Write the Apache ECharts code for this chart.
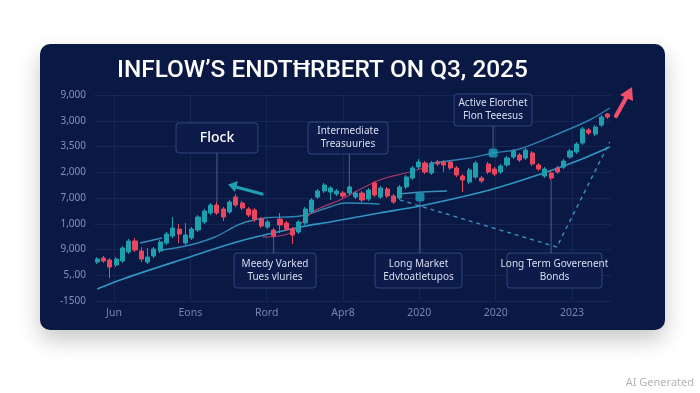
<!DOCTYPE html>
<html>
<head>
<meta charset="utf-8">
<script src="https://cdn.jsdelivr.net/npm/echarts@6/dist/echarts.min.js"></script>
<style>
  html, body { margin: 0; padding: 0; background: #ffffff; }
  #chart { width: 700px; height: 393px; }
</style>
</head>
<body>
<div id="chart"></div>
<script>
// ---- data ----
const titleText = 'INFLOW\u2019S ENDT\u0126RBERT ON Q3, 2025';
const xTickLabels = ['Jun', 'Eons', 'Rord', 'Apr8', '2020', '2020', '2023'];
const yTickLabels = ['-1500', '5,.00', '9,000', '1,000', '7,000', '2,000', '3,500', '3,000', '9,000'];

// candles: [open, close, low, high]
const candles = [
  [39,42,37,44],[43,40,38,45],[41,34,23,43],[36,42,34,44],[40,53,38,55],
  [49,60,47,62],[60,51,49,63],[50,42,39,54],[39,44,37,53],[45,52,43,54],
  [50,59,48,61],[58,67,56,69],[65,73,63,84],[72,67,58,77],[58,66,56,78],
  [63,72,61,74],[71,84,69,86],[79,90,77,92],[88,96,86,98],[96,88,86,99],
  [92,84,80,94],[89,99,87,101],[104,96,94,107],[98,93,91,100],[92,86,84,94],
  [91,82,79,93],[82,75,73,84],[74,79,72,81],[71,65,63,73],[82,76,68,88],
  [78,72,70,80],[72,66,57,74],[69,79,67,81],[78,92,76,94],[89,101,87,103],
  [104,110,102,112],[110,116,108,118],[109,113,101,115],[107,110,105,112],[108,105,103,110],
  [108,114,106,116],[104,108,102,110],[108,101,99,110],[102,111,100,113],[118,106,104,120],
  [104,113,102,115],[112,105,103,114],[105,99,97,107],[103,114,101,116],[114,124,112,126],
  [123,133,121,135],[134,139,132,142],[138,129,127,140],[128,138,126,140],[139,137,135,141],
  [139,136,129,141],[139,133,131,141],[133,126,124,135],[125,121,109,127],[119,131,117,133],
  [124,138,122,140],[123,120,118,125],[137,129,127,139],[132,127,125,134],[129,135,127,137],
  [136,143,134,145],[144,150,142,152],[146,141,139,148],[143,151,141,153],[148,137,135,150],
  [136,132,130,138],[125,132,123,134],[128,123,121,130],[133,129,127,135],[134,140,132,142],
  [144,150,142,152],[149,157,147,159],[158,172,156,174],[171,168,166,173],[167,174,165,176],
  [176,184,174,186],[187,184,182,188]
];

// trend lines: [candle position, value]
const lineLower = [[0,12],[4.1,22],[13.2,41],[22.7,60],[32.2,74],[36.9,79],[44.8,88],[51.2,95],[59.1,106],[63.9,114],[71.3,129],[76.5,141],[81.3,154]];
const lineMidShort = [[6.8,58],[10.3,63]];
const lineMid = [[10.3,51],[14.7,56],[18.7,64],[22.7,77],[26.6,83],[32.2,85],[36.9,94],[39.3,98],[44.8,97]];
const lineMidLate = [[48,107],[51.6,109],[55.5,110]];
const linePink = [[26.3,64],[30.6,68],[34.2,89],[38.5,101],[44.8,121],[49.6,129],[53.1,136]];
const lineUpper = [[53.1,138],[59.1,143],[62.8,148],[67,152],[73.4,168],[78.1,181],[81.3,193]];
const lineDashed = [[48,101],[72.9,54],[81.3,159]];
const markerPoints = [[51.2,104],[62.8,148]];

// annotations: text lines and the point each one points at
const annotations = [
  { lines: ['Flock'], anchor: [19, 99], size: 14 },
  { lines: ['Intermediate', 'Treasuuries'], anchor: [40, 113], size: 10 },
  { lines: ['Active Elorchet', 'Flon Teeesus'], anchor: [62.8, 148], size: 10 },
  { lines: ['Meedy Varked', 'Tues vluries'], anchor: [28, 63], size: 10 },
  { lines: ['Long Market', 'Edvtoatletupos'], anchor: [51.2, 104], size: 10 },
  { lines: ['Long Term Goverenent', 'Bonds'], anchor: [72, 121], size: 10 }
];
// box layout (x, y, w, h) for the annotations above
const annotationBoxes = [
  [176, 123, 82, 30], [308, 122, 80, 32], [454, 94, 78, 32],
  [234, 253, 82, 35], [375, 253, 87, 35], [507, 253, 95, 35]
];

// ---- chart ----
const yStep = 25.75;
const chart = echarts.init(document.getElementById('chart'), null, { renderer: 'canvas' });
const FONT = '"Noto Sans", "Open Sans", sans-serif';
const gridCol = 'rgba(70,100,165,0.18)';
const lineSeries = (data, color, width, extra) => Object.assign({
  type: 'line', xAxisIndex: 1, yAxisIndex: 0, data: data, smooth: 0.35,
  symbol: 'none', lineStyle: { color: color, width: width }, z: 3, silent: true
}, extra || {});

const option = {
  backgroundColor: '#ffffff',
  animation: false,
  grid: [
    { left: 94, right: 89, top: 95, bottom: 92 },
    { left: 114, right: 128, top: 95, bottom: 92 }
  ],
  xAxis: [
    { type: 'category', gridIndex: 0, data: candles.map((_, i) => String(i)), boundaryGap: true,
      axisLine: { show: false }, axisTick: { show: false }, axisLabel: { show: false }, splitLine: { show: false } },
    { type: 'value', gridIndex: 0, min: -0.5, max: candles.length - 0.5, show: false },
    { type: 'category', gridIndex: 1, data: xTickLabels, boundaryGap: false,
      axisLine: { show: false }, axisTick: { show: false },
      axisLabel: { interval: 0, color: '#7385b3', fontSize: 10.5, fontFamily: FONT, margin: 7 },
      splitLine: { show: true, lineStyle: { color: gridCol, width: 1 } } }
  ],
  yAxis: [
    { type: 'value', gridIndex: 0, min: 0, max: yStep * 8, interval: yStep,
      axisLine: { show: false }, axisTick: { show: false },
      axisLabel: { color: '#8391bb', fontSize: 10, fontFamily: FONT, margin: 8,
        formatter: v => yTickLabels[Math.round(v / yStep)] || '' },
      splitLine: { show: true, lineStyle: { color: gridCol, width: 1 } } },
    { type: 'value', gridIndex: 1, min: 0, max: 1, show: false }
  ],
  series: [
    lineSeries(lineLower, '#2f97c4', 1.6),
    lineSeries(lineMidShort, '#3a8fb8', 1.3),
    lineSeries(lineMid, '#2f86b3', 1.4),
    lineSeries(lineMidLate, '#3a8fb8', 1.3),
    lineSeries(linePink, '#a8386a', 1.3),
    lineSeries(lineUpper, '#2f7fb0', 1.4),
    lineSeries(lineDashed, '#3c8fc0', 1.4, { smooth: false, lineStyle: { color: '#3c8fc0', width: 1.4, type: [4, 4] } }),
    { type: 'candlestick', xAxisIndex: 0, yAxisIndex: 0, data: candles, barWidth: 4.6, z: 4,
      itemStyle: { color: '#1d9fae', color0: '#e9475f', borderColor: '#1d9fae', borderColor0: '#e9475f', borderWidth: 1 } },
    { type: 'scatter', xAxisIndex: 1, yAxisIndex: 0, data: markerPoints, symbol: 'roundRect',
      symbolSize: [9, 9], itemStyle: { color: '#1aa3b9' }, z: 6, silent: true }
  ],
  graphic: []
};
chart.setOption(option);

// decorative layer: panel, title, annotation boxes + connectors, arrows
const g = [];
g.push({ type: 'rect', z: -10, shape: { x: 40, y: 44, width: 625, height: 286, r: 10 },
  style: { fill: '#0a1844', shadowBlur: 22, shadowColor: 'rgba(0,0,0,0.22)', shadowOffsetY: 10 } });
g.push({ type: 'text', z: 10, x: 117, y: 71,
  style: { text: titleText, fill: '#ffffff', font: '500 24.4px Roboto, ' + FONT, textVerticalAlign: 'middle', textAlign: 'left' } });

annotations.forEach((a, i) => {
  const [bx, by, bw, bh] = annotationBoxes[i];
  const p = chart.convertToPixel({ xAxisIndex: 1, yAxisIndex: 0 }, a.anchor);
  const below = by > p[1];
  g.push({ type: 'line', z: 5, shape: { x1: p[0], y1: p[1], x2: p[0], y2: below ? by : by + bh },
    style: { stroke: 'rgba(120,145,195,0.6)', lineWidth: 1 } });
  g.push({ type: 'rect', z: 20, shape: { x: bx, y: by, width: bw, height: bh, r: 3 },
    style: { fill: '#0c1b4a', stroke: 'rgba(95,125,185,0.45)', lineWidth: 1 } });
  const lh = a.size + 3;
  const y0 = by + bh / 2 - (a.lines.length - 1) * lh / 2;
  a.lines.forEach((t, k) => {
    g.push({ type: 'text', z: 21, x: bx + bw / 2, y: y0 + k * lh,
      style: { text: t, fill: a.size > 12 ? '#ffffff' : '#d8def0', font: (a.size > 12 ? '500 ' : '') + a.size + 'px ' + FONT,
        textAlign: 'center', textVerticalAlign: 'middle' } });
  });
});

// teal arrow pointing left
g.push({ type: 'line', z: 8, shape: { x1: 262, y1: 194, x2: 236, y2: 187 },
  style: { stroke: '#1e9fb3', lineWidth: 3.2, lineCap: 'round' } });
g.push({ type: 'polygon', z: 8, shape: { points: [[228, 184.5], [238, 181], [235, 192]] },
  style: { fill: '#1e9fb3' } });
// red arrow pointing up-right
g.push({ type: 'line', z: 8, shape: { x1: 616, y1: 116, x2: 626, y2: 98 },
  style: { stroke: '#f0506a', lineWidth: 4.2, lineCap: 'round' } });
g.push({ type: 'polygon', z: 8, shape: { points: [[632, 87], [633, 101], [620, 95]] },
  style: { fill: '#f0506a' } });

g.push({ type: 'text', z: 10, x: 694, y: 383,
  style: { text: 'AI Generated', fill: '#b5b5b5', font: '11px ' + FONT, textAlign: 'right', textVerticalAlign: 'middle' } });

chart.setOption({ graphic: g });
</script>
</body>
</html>
